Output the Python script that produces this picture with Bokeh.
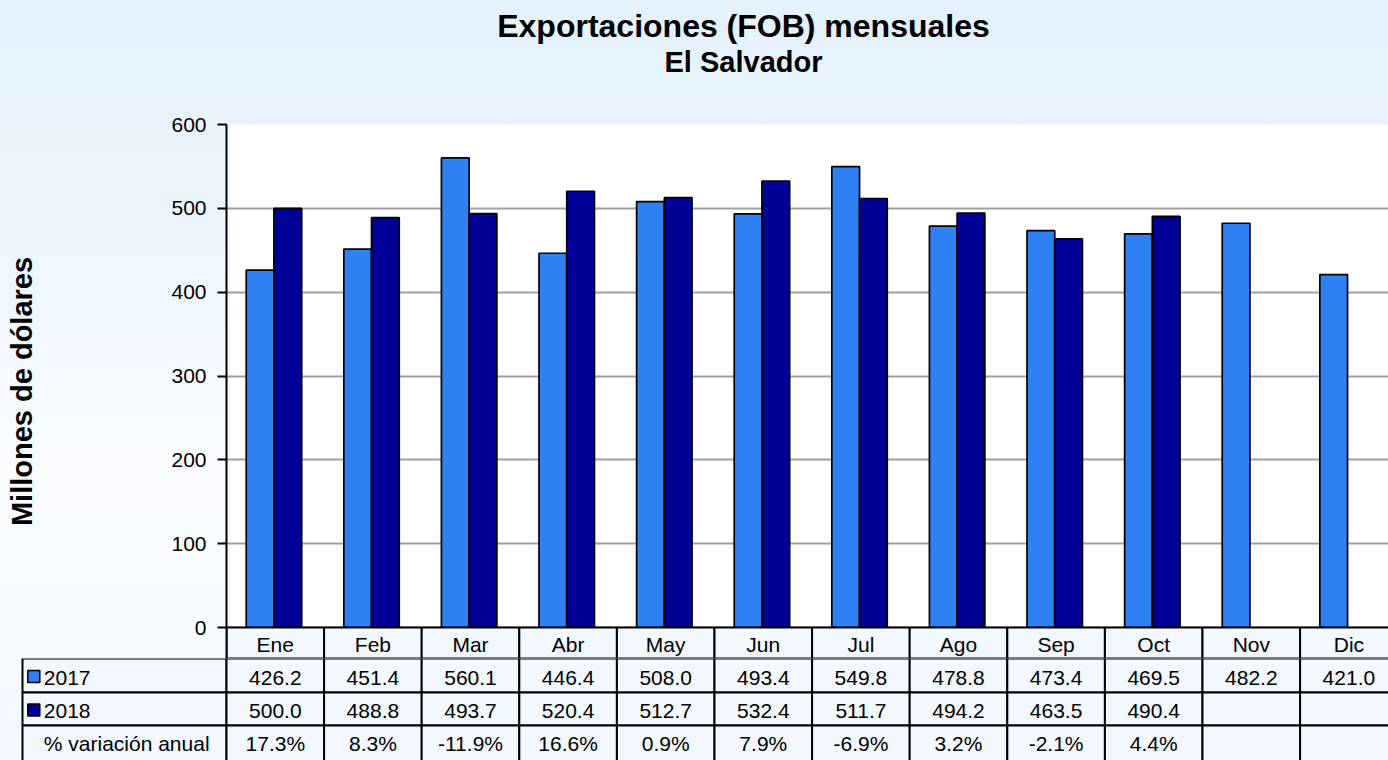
from bokeh.plotting import figure
from bokeh.models import Range1d, FixedTicker, ColumnDataSource
from bokeh.layouts import column
from bokeh.embed import file_html
from bokeh.resources import INLINE
from bokeh.core.properties import value

# ---------------- data ----------------
months = ["Ene", "Feb", "Mar", "Abr", "May", "Jun", "Jul", "Ago", "Sep", "Oct", "Nov", "Dic"]
exp_2017 = [426.2, 451.4, 560.1, 446.4, 508.0, 493.4, 549.8, 478.8, 473.4, 469.5, 482.2, 421.0]
exp_2018 = [500.0, 488.8, 493.7, 520.4, 512.7, 532.4, 511.7, 494.2, 463.5, 490.4]
var_pct = [17.3, 8.3, -11.9, 16.6, 0.9, 7.9, -6.9, 3.2, -2.1, 4.4]
series_names = ["2017", "2018"]
row_label_pct = "% variación anual"
y_ticks = [0, 100, 200, 300, 400, 500, 600]
title_main = "Exportaciones (FOB) mensuales"
title_sub = "El Salvador"
y_label = "Millones de dólares"

# ---------------- style ----------------
FONT = "Liberation Sans"
C17 = "#2f80f2"
C18 = "#000099"
CELL = "#f3f8fe"
W = 1388
PX_CAT = 97.6          # pixels per month column
LEFT = 226             # frame left in figure px
x_end = (W - LEFT) / PX_CAT
leg_left = -(226 - 22) / PX_CAT
PX_Y = 503.0 / 600.0   # pixels per value unit
TITLE_H = 114

idx = list(range(len(months)))

def bare(fig):
    fig.frame_align = False
    fig.grid.visible = False
    return fig

# ---------------- title strip ----------------
head = bare(figure(width=W, height=TITLE_H, output_backend="svg", toolbar_location=None,
                   x_range=Range1d(0, W), y_range=Range1d(0, TITLE_H),
                   x_axis_location=None, y_axis_location=None, min_border=0,
                   background_fill_color=None, border_fill_color=None, outline_line_color=None))
head.text(x=[743], y=[TITLE_H - 25], text=[title_main], text_align="center",
          text_baseline="middle", text_font=value(FONT), text_font_size="32px",
          text_font_style="bold", text_color="black")
head.text(x=[743], y=[TITLE_H - 61], text=[title_sub], text_align="center",
          text_baseline="middle", text_font=value(FONT), text_font_size="29px",
          text_font_style="bold", text_color="black")

# ---------------- chart ----------------
top = figure(width=W, height=658 - TITLE_H, output_backend="svg", toolbar_location=None,
             x_range=Range1d(0, x_end), y_range=Range1d(-31 / PX_Y, 600),
             x_axis_location=None, title=None,
             min_border_left=LEFT, min_border_right=0, min_border_top=124 - TITLE_H,
             min_border_bottom=0,
             background_fill_color="white", border_fill_color=None, outline_line_color=None)
top.frame_align = False

top.xgrid.visible = False
top.ygrid.ticker = FixedTicker(ticks=y_ticks)
top.ygrid.grid_line_color = "#a0a0a0"
top.ygrid.grid_line_width = 2

ax = top.yaxis[0]
ax.ticker = FixedTicker(ticks=y_ticks)
ax.axis_line_color = "black"
ax.axis_line_width = 2
ax.major_tick_line_color = "black"
ax.major_tick_line_width = 2
ax.major_tick_out = 9
ax.major_tick_in = 0
ax.minor_tick_line_color = None
ax.major_label_text_font = FONT
ax.major_label_text_font_size = "21px"
ax.major_label_text_color = "black"
ax.major_label_standoff = 11
ax.axis_label = y_label
ax.axis_label_text_font = FONT
ax.axis_label_text_font_size = "29px"
ax.axis_label_text_font_style = "bold"
ax.axis_label_text_color = "black"
ax.axis_label_standoff = 130

src17 = ColumnDataSource(dict(x=[i + 0.5 - 0.156 for i in idx], top=exp_2017))
src18 = ColumnDataSource(dict(x=[i + 0.5 + 0.128 for i in idx[:len(exp_2018)]], top=exp_2018))
top.vbar(x="x", top="top", bottom=0, width=0.284, source=src17,
         fill_color=C17, line_color="black", line_width=1.7)
top.vbar(x="x", top="top", bottom=0, width=0.284, source=src18,
         fill_color=C18, line_color="black", line_width=1.7)

# header row of the table (month names) inside the chart frame
top.quad(left=idx, right=[i + 1 for i in idx], top=0, bottom=-31 / PX_Y,
         fill_color=CELL, line_color="black", line_width=2)
top.text(x=[i + 0.5 for i in idx], y=-17 / PX_Y, text=months, text_align="center",
         text_baseline="middle", text_font=value(FONT), text_font_size="21px",
         text_color="black")

# ---------------- table ----------------
bot = bare(figure(width=W, height=102, output_backend="svg", toolbar_location=None,
                  x_range=Range1d(-LEFT / PX_CAT, x_end), y_range=Range1d(0, 102),
                  x_axis_location=None, y_axis_location=None, min_border=0,
                  background_fill_color=None, border_fill_color=None, outline_line_color=None))

rows = [(68, 102), (35, 68), (-10, 35)]
ql, qr, qt, qb = [], [], [], []
for (b, t) in rows:
    ql.append(leg_left); qr.append(0); qt.append(t); qb.append(b)
    for i in idx:
        ql.append(i); qr.append(i + 1); qt.append(t); qb.append(b)
bot.quad(left=ql, right=qr, top=qt, bottom=qb, fill_color=CELL,
         line_color="black", line_width=2)

centers = [83, 50, 17]
txt_kw = dict(text_baseline="middle", text_font=value(FONT),
              text_font_size="21px", text_color="black")
bot.text(x=[i + 0.5 for i in idx], y=centers[0],
         text=["%.1f" % v for v in exp_2017], text_align="center", **txt_kw)
bot.text(x=[i + 0.5 for i in idx[:len(exp_2018)]], y=centers[1],
         text=["%.1f" % v for v in exp_2018], text_align="center", **txt_kw)
bot.text(x=[i + 0.5 for i in idx[:len(var_pct)]], y=centers[2],
         text=["%.1f%%" % v for v in var_pct], text_align="center", **txt_kw)

leg_text_x = (43.3 - 226) / PX_CAT
bot.text(x=[leg_text_x] * 3, y=centers, text=series_names + [row_label_pct],
         text_align="left", **txt_kw)
bot.scatter(x=[(33.3 - 226) / PX_CAT] * 2, y=[84, 50.5], marker="square", size=12,
            fill_color=[C17, C18], line_color="black", line_width=1.5)

layout = column(head, top, bot, styles={
    "background": "linear-gradient(to bottom, #e4f2fd 0%, #eef6fe 35%, #fafcff 62%, #f2f8fe 100%)"})

open("out.html", "w").write(file_html(layout, INLINE))
